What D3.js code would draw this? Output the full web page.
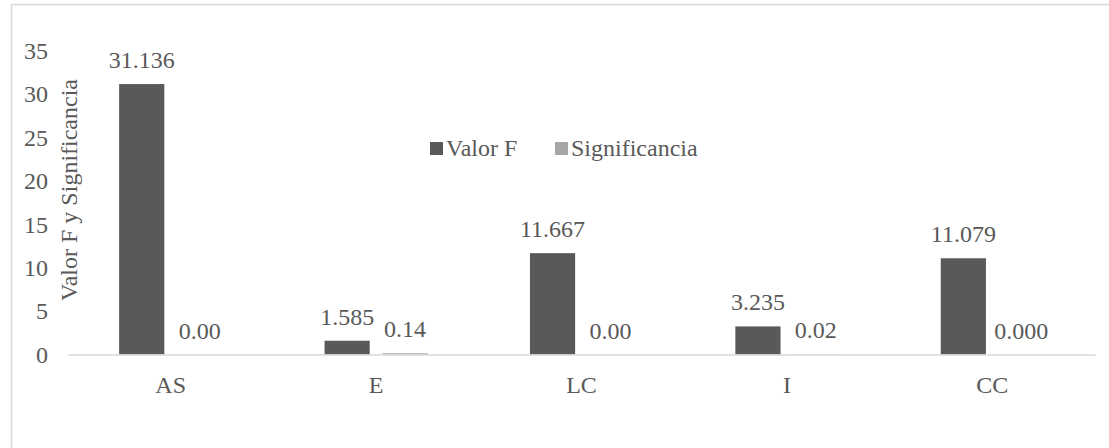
<!DOCTYPE html>
<html>
<head>
<meta charset="utf-8">
<script src="https://cdn.jsdelivr.net/npm/d3@7"></script>
<style>
  html, body { margin: 0; padding: 0; background: #ffffff; }
  svg { display: block; }
  text { font-family: "Liberation Serif", "Times New Roman", serif; fill: #595959; }
</style>
</head>
<body>
<svg id="chart" width="1109" height="448"></svg>
<script>
const categories = ["AS", "E", "LC", "I", "CC"];
const seriesNames = ["Valor F", "Significancia"];
const valorF = [31.136, 1.585, 11.667, 3.235, 11.079];
const significancia = [0.00, 0.14, 0.00, 0.02, 0.000];
const valorFLabels = ["31.136", "1.585", "11.667", "3.235", "11.079"];
const significanciaLabels = ["0.00", "0.14", "0.00", "0.02", "0.000"];
const yTicks = [0, 5, 10, 15, 20, 25, 30, 35];
const yTitle = "Valor F y Significancia";
const colors = ["#595959", "#a6a6a6"];

const svg = d3.select("#chart");
const FS = 24;
const FONT = '"Liberation Serif", "Times New Roman", serif';

// outer border
svg.append("rect")
  .attr("x", 11.5).attr("y", 4.5)
  .attr("width", 1200).attr("height", 500)
  .attr("fill", "none").attr("stroke", "#d9d9d9").attr("stroke-width", 1.5);

const x0 = d3.scaleBand().domain(categories).range([68, 1095]).padding(0);
const x1 = d3.scaleBand().domain(seriesNames)
  .range([x0.bandwidth() * 0.249, x0.bandwidth() * 0.751])
  .paddingInner(0.22);
const y = d3.scaleLinear().domain([0, 35]).range([354.5, 50.5]);

// y axis
const yAxis = svg.append("g")
  .attr("transform", "translate(48,0)")
  .call(d3.axisLeft(y).tickValues(yTicks).tickSize(0).tickPadding(0).tickFormat(d3.format("d")));
yAxis.select(".domain").remove();
yAxis.selectAll("text")
  .style("font-family", FONT)
  .style("font-size", FS + "px").attr("fill", "#595959")
  .attr("dy", "0.33em");

// y title
svg.append("text")
  .attr("transform", "translate(77,190) rotate(-90)")
  .attr("text-anchor", "middle")
  .style("font-family", FONT)
  .style("font-size", FS + "px")
  .text(yTitle);

// bars
const data = categories.map((c, i) => ({
  cat: c,
  vals: [
    { s: seriesNames[0], v: valorF[i], lab: valorFLabels[i] },
    { s: seriesNames[1], v: significancia[i], lab: significanciaLabels[i] }
  ]
}));

const groups = svg.append("g").selectAll("g").data(data).join("g")
  .attr("transform", d => `translate(${x0(d.cat)},0)`);

groups.selectAll("rect").data(d => d.vals).join("rect")
  .attr("x", d => x1(d.s))
  .attr("width", x1.bandwidth())
  .attr("y", d => y(d.v))
  .attr("height", d => y(0) - y(d.v))
  .attr("fill", (d, i) => colors[i]);

groups.selectAll("text.lab").data(d => d.vals).join("text")
  .attr("class", "lab")
  .attr("x", d => x1(d.s) + x1.bandwidth() / 2)
  .attr("y", d => y(d.v) - 16)
  .attr("text-anchor", "middle")
  .style("font-family", FONT)
  .style("font-size", FS + "px")
  .text(d => d.lab);

// x axis
const xAxis = svg.append("g")
  .attr("transform", `translate(0,${y(0)})`)
  .call(d3.axisBottom(x0).tickSize(0).tickPadding(21));
xAxis.select(".domain").attr("stroke", "#d9d9d9").attr("stroke-width", 1.5);
xAxis.selectAll("text")
  .style("font-family", FONT)
  .style("font-size", FS + "px").attr("fill", "#595959");

// legend
const legendX = [430, 555];
const legend = svg.append("g").selectAll("g").data(seriesNames).join("g")
  .attr("transform", (d, i) => `translate(${legendX[i]},142)`);
legend.append("rect")
  .attr("width", 13).attr("height", 13)
  .attr("fill", (d, i) => colors[i]);
legend.append("text")
  .attr("x", 16).attr("y", 14)
  .style("font-family", FONT)
  .style("font-size", FS + "px")
  .text(d => d);
</script>
</body>
</html>
